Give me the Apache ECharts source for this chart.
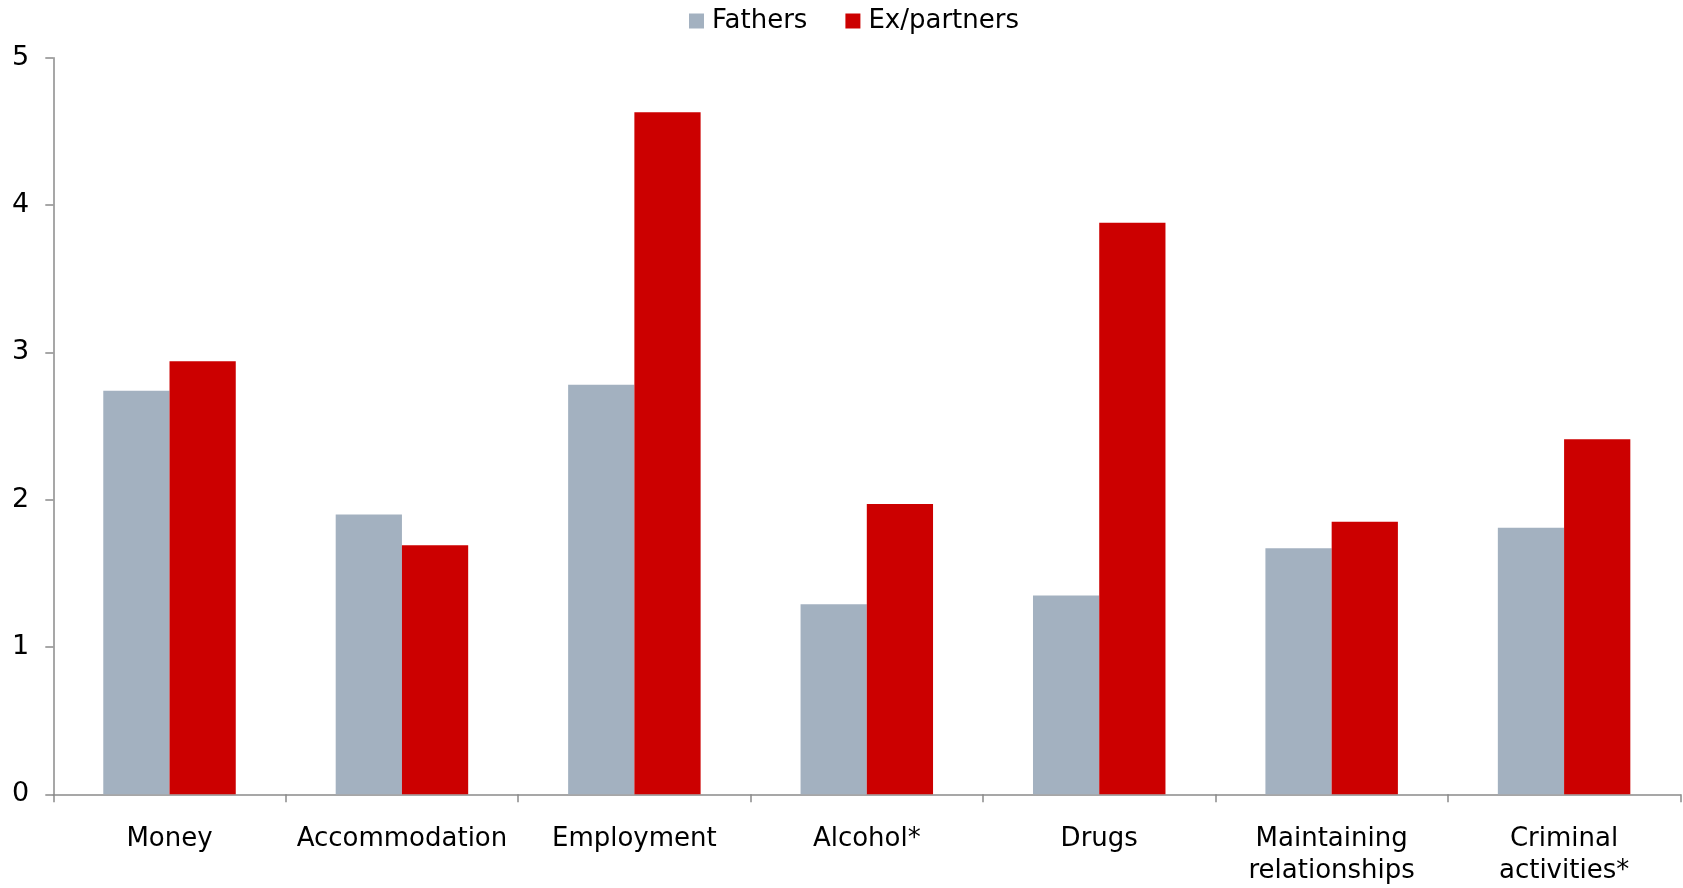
<!DOCTYPE html>
<html>
<head>
<meta charset="utf-8">
<script src="https://cdn.jsdelivr.net/npm/echarts@6/dist/echarts.min.js"></script>
<style>
html,body{margin:0;padding:0;background:#fff;}
#chart{width:1683px;height:888px;}
</style>
</head>
<body>
<div id="chart"></div>
<script>
const categories = ["Money", "Accommodation", "Employment", "Alcohol*", "Drugs", "Maintaining\nrelationships", "Criminal\nactivities*"];
const fathers = [2.74, 1.90, 2.78, 1.29, 1.35, 1.67, 1.81];
const exPartners = [2.94, 1.69, 4.63, 1.97, 3.88, 1.85, 2.41];
const seriesNames = ["Fathers", "Ex/partners"];

const FONT = "DejaVu Sans";
const chart = echarts.init(document.getElementById('chart'));
chart.setOption({
  animation: false,
  backgroundColor: '#ffffff',
  textStyle: { fontFamily: FONT, color: '#000' },
  legend: {
    left: 689, top: 8, padding: 0,
    itemWidth: 15, itemHeight: 15, itemGap: 38,
    icon: 'rect',
    textStyle: { fontFamily: FONT, fontSize: 26, color: '#000', lineHeight: 26, padding: [0,0,0,3] },
    data: seriesNames
  },
  grid: { left: 53.3, right: 2.7, top: 57.8, bottom: 93.7, containLabel: false },
  xAxis: {
    type: 'category',
    data: categories,
    axisLine: { lineStyle: { color: '#8a8a8a', width: 1.5 } },
    axisTick: { show: true, length: 8, lineStyle: { color: '#8a8a8a', width: 1.5 } },
    axisLabel: { fontFamily: FONT, fontSize: 26, color: '#000', lineHeight: 32, margin: 29, interval: 0 }
  },
  yAxis: {
    type: 'value', min: 0, max: 5, interval: 1,
    splitLine: { show: false },
    axisLine: { show: true, lineStyle: { color: '#8a8a8a', width: 1.5 } },
    axisTick: { show: true, length: 8, lineStyle: { color: '#8a8a8a', width: 1.5 } },
    axisLabel: { fontFamily: FONT, fontSize: 27, color: '#000', margin: 24 }
  },
  series: [
    { name: seriesNames[0], type: 'bar', data: fathers, barGap: '0%', barCategoryGap: '43%', itemStyle: { color: '#A3B1C0' } },
    { name: seriesNames[1], type: 'bar', data: exPartners, barGap: '0%', barCategoryGap: '43%', itemStyle: { color: '#CC0000' } }
  ]
});
</script>
</body>
</html>
